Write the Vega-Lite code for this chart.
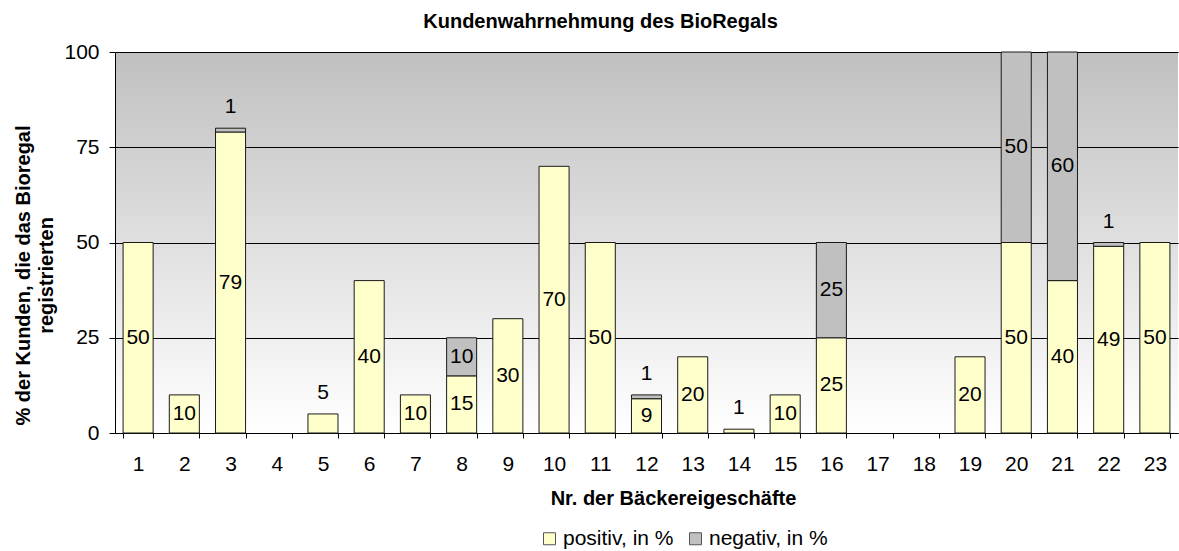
{
  "$schema": "https://vega.github.io/schema/vega-lite/v6.json",
  "width": 1063,
  "height": 381,
  "autosize": "none",
  "padding": {"left": 115, "top": 52, "right": 1, "bottom": 118},
  "background": "white",
  "config": {
    "font": "Liberation Sans",
    "view": {
      "stroke": null,
      "fill": {
        "gradient": "linear",
        "x1": 0, "y1": 0, "x2": 0, "y2": 1,
        "stops": [
          {"offset": 0, "color": "#c0c0c0"},
          {"offset": 1, "color": "#ffffff"}
        ]
      }
    }
  },
  "title": {
    "text": "Kundenwahrnehmung des BioRegals",
    "fontSize": 20,
    "fontWeight": "bold",
    "color": "black",
    "anchor": "middle",
    "dx": -46,
    "offset": 9
  },
  "data": {
    "values": [
      {"nr": 1, "serie": "positiv, in %", "wert": 50},
      {"nr": 2, "serie": "positiv, in %", "wert": 10},
      {"nr": 3, "serie": "positiv, in %", "wert": 79},
      {"nr": 3, "serie": "negativ, in %", "wert": 1},
      {"nr": 5, "serie": "positiv, in %", "wert": 5},
      {"nr": 6, "serie": "positiv, in %", "wert": 40},
      {"nr": 7, "serie": "positiv, in %", "wert": 10},
      {"nr": 8, "serie": "positiv, in %", "wert": 15},
      {"nr": 8, "serie": "negativ, in %", "wert": 10},
      {"nr": 9, "serie": "positiv, in %", "wert": 30},
      {"nr": 10, "serie": "positiv, in %", "wert": 70},
      {"nr": 11, "serie": "positiv, in %", "wert": 50},
      {"nr": 12, "serie": "positiv, in %", "wert": 9},
      {"nr": 12, "serie": "negativ, in %", "wert": 1},
      {"nr": 13, "serie": "positiv, in %", "wert": 20},
      {"nr": 14, "serie": "positiv, in %", "wert": 1},
      {"nr": 15, "serie": "positiv, in %", "wert": 10},
      {"nr": 16, "serie": "positiv, in %", "wert": 25},
      {"nr": 16, "serie": "negativ, in %", "wert": 25},
      {"nr": 19, "serie": "positiv, in %", "wert": 20},
      {"nr": 20, "serie": "positiv, in %", "wert": 50},
      {"nr": 20, "serie": "negativ, in %", "wert": 50},
      {"nr": 21, "serie": "positiv, in %", "wert": 40},
      {"nr": 21, "serie": "negativ, in %", "wert": 60},
      {"nr": 22, "serie": "positiv, in %", "wert": 49},
      {"nr": 22, "serie": "negativ, in %", "wert": 1},
      {"nr": 23, "serie": "positiv, in %", "wert": 50}
    ]
  },
  "transform": [
    {"stack": "wert", "groupby": ["nr"], "sort": [{"field": "serie", "order": "descending"}], "as": ["y0", "y1"]},
    {"calculate": "(datum.y0 + datum.y1) / 2", "as": "ymid"}
  ],
  "encoding": {
    "x": {
      "field": "nr",
      "type": "ordinal",
      "scale": {
        "domain": [1, 2, 3, 4, 5, 6, 7, 8, 9, 10, 11, 12, 13, 14, 15, 16, 17, 18, 19, 20, 21, 22, 23],
        "paddingInner": 0.35,
        "paddingOuter": 0.175
      },
      "axis": {
        "title": "Nr. der Bäckereigeschäfte",
        "labelAngle": 0,
        "tickBand": "extent",
        "tickSize": 5,
        "tickColor": "black",
        "domainColor": "black",
        "labelFontSize": 21,
        "labelColor": "black",
        "labelPadding": 15,
        "titleFontSize": 20,
        "titleFontWeight": "bold",
        "titleColor": "black",
        "titleX": 558,
        "titleY": 55,
        "titleAlign": "center",
        "titleBaseline": "top",
        "grid": false
      }
    }
  },
  "layer": [
    {
      "mark": {"type": "bar", "stroke": "#1a1a1a", "strokeWidth": 1},
      "encoding": {
        "y": {
          "field": "y1",
          "type": "quantitative",
          "scale": {"domain": [0, 100], "nice": false},
          "axis": {
            "values": [0, 25, 50, 75, 100],
            "grid": true,
            "gridColor": "black",
            "gridWidth": 1,
            "gridOpacity": 1,
            "domainColor": "black",
            "tickColor": "black",
            "tickSize": 6,
            "labelFontSize": 21,
            "labelColor": "black",
            "labelPadding": 10,
            "title": ["% der Kunden, die das Bioregal", "registrierten"],
            "titleFontSize": 20,
            "titleFontWeight": "bold",
            "titleColor": "black",
            "titleAngle": 270,
            "titleX": -102,
            "titleY": 223,
            "titleAlign": "center",
            "titleBaseline": "top",
            "titleLineHeight": 23
          }
        },
        "y2": {"field": "y0"},
        "color": {
          "field": "serie",
          "type": "nominal",
          "scale": {"domain": ["positiv, in %", "negativ, in %"], "range": ["#FFFFCC", "#C0C0C0"]},
          "legend": {
            "orient": "none",
            "legendX": 424,
            "legendY": 476,
            "direction": "horizontal",
            "title": null,
            "labelFontSize": 21,
            "labelColor": "black",
            "symbolType": "square",
            "symbolSize": 144,
            "symbolStrokeColor": "#555555",
            "symbolStrokeWidth": 1,
            "columnPadding": 11,
            "labelOffset": 3
          }
        }
      }
    },
    {
      "transform": [{"filter": "datum.wert > 5"}],
      "mark": {"type": "text", "fontSize": 21, "baseline": "middle", "color": "black"},
      "encoding": {
        "y": {"field": "ymid", "type": "quantitative"},
        "text": {"field": "wert", "type": "quantitative"}
      }
    },
    {
      "transform": [{"filter": "datum.wert <= 5"}],
      "mark": {"type": "text", "fontSize": 21, "baseline": "middle", "dy": -21, "color": "black"},
      "encoding": {
        "y": {"field": "y1", "type": "quantitative"},
        "text": {"field": "wert", "type": "quantitative"}
      }
    }
  ]
}
